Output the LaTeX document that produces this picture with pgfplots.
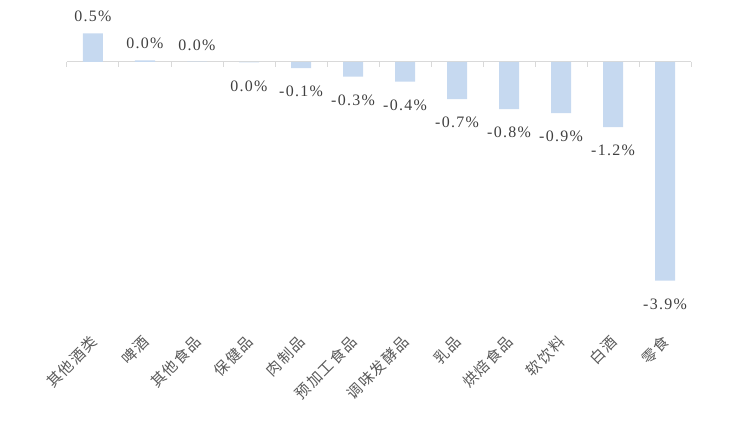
\documentclass[border=0pt]{standalone}
\usepackage{pgfplots}
\pgfplotsset{compat=1.18}
\usepackage{fontspec}
\setmainfont{Liberation Serif}
\newfontfamily\numfont[LetterSpace=8]{Liberation Serif}
\newfontfamily\cjk[LetterSpace=10]{Noto Sans CJK SC}
\definecolor{barblue}{HTML}{C6D9F0}
\definecolor{axgray}{HTML}{D9D9D9}
\definecolor{txt}{HTML}{404040}
\definecolor{lab}{HTML}{595959}
\pgfplotstableread{
x y lab
0 0.51 0.5
1 0.03 0.0
2 0.005 0.0
}\pos
\pgfplotstableread{
x y lab
3 -0.005 0.0
4 -0.11 -0.1
5 -0.26 -0.3
6 -0.35 -0.4
7 -0.66 -0.7
8 -0.84 -0.8
9 -0.91 -0.9
10 -1.16 -1.2
11 -3.89 -3.9
}\negt
\begin{document}
\begin{tikzpicture}
\begin{axis}[
  name=ax,
  scale only axis,
  width=624bp, height=309bp,
  xmin=-0.5, xmax=11.5,
  ymin=-4.5, ymax=1.0,
  axis line style={draw=none},
  ytick=\empty,
  xtick={0,...,11},
  xticklabels={其他酒类,啤酒,其他食品,保健品,肉制品,预加工食品,调味发酵品,乳品,烘焙食品,软饮料,白酒,零食},
  major tick length=0pt,
  xticklabel style={xshift=4bp, yshift=-22bp, rotate=45, anchor=east, font=\cjk\fontsize{15}{15}\selectfont, text=lab},
  clip=false,
]
\draw[axgray, line width=1bp] (axis cs:-0.5,0) -- (axis cs:11.5,0);
\pgfplotsinvokeforeach{0,...,12}{\draw[axgray, line width=1bp] (axis cs:#1-0.5,0) -- ([yshift=-5bp]axis cs:#1-0.5,0);}
\addplot[ybar, bar width=20bp, bar shift=0pt, fill=barblue, draw=none,
  point meta=explicit symbolic,
  nodes near coords={\pgfplotspointmeta\%},
  every node near coord/.style={anchor=south, inner sep=0pt, yshift=11bp, text=txt, font=\numfont\fontsize{16}{16}\selectfont}]
  table[x=x, y=y, meta=lab] {\pos};
\addplot[ybar, bar width=20bp, bar shift=0pt, fill=barblue, draw=none,
  point meta=explicit symbolic,
  nodes near coords={\pgfplotspointmeta\%},
  every node near coord/.style={anchor=north, inner sep=0pt, yshift=-18bp, text=txt, font=\numfont\fontsize{16}{16}\selectfont}]
  table[x=x, y=y, meta=lab] {\negt};
\end{axis}
\pgfresetboundingbox
\path ([shift={(-67bp,5.8bp)}]ax.north west) rectangle ([shift={(667bp,-442.2bp)}]ax.north west);
\end{tikzpicture}
\end{document}
